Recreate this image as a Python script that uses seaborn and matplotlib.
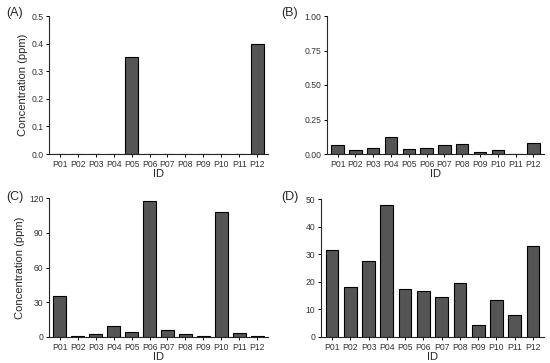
import numpy as np
import pandas as pd
import matplotlib
matplotlib.use('Agg')
import matplotlib.pyplot as plt
import seaborn as sns

ids = ['P01', 'P02', 'P03', 'P04', 'P05', 'P06', 'P07', 'P08', 'P09', 'P10', 'P11', 'P12']
conc_a = [0, 0, 0, 0, 0.35, 0, 0, 0, 0, 0, 0, 0.40]
conc_b = [0.063, 0.026, 0.047, 0.125, 0.037, 0.042, 0.065, 0.069, 0.012, 0.028, 0.003, 0.080]
conc_c = [35.3, 1.0, 2.9, 9.8, 4.7, 117.0, 6.4, 2.7, 0.6, 107.8, 3.3, 0.8]
conc_d = [31.4, 18.1, 27.4, 47.7, 17.3, 16.6, 14.4, 19.4, 4.3, 13.5, 8.0, 32.9]

panels = ['(A)', '(B)', '(C)', '(D)']
ymax = [0.5, 1.0, 120, 50]
yticks = [[0, 0.1, 0.2, 0.3, 0.4, 0.5],
          [0, 0.25, 0.5, 0.75, 1.0],
          [0, 30, 60, 90, 120],
          [0, 10, 20, 30, 40, 50]]
yfmt = ['{:.1f}', '{:.2f}', '{:.0f}', '{:.0f}']

sns.set_style('ticks')
plt.rcParams['font.family'] = ['Liberation Sans', 'DejaVu Sans']

W, H = 550, 363
fig = plt.figure(figsize=(5.5, 3.63), dpi=100)

# axes boxes in pixels: left, right, top, bottom
boxes = [(49, 268, 16, 154), (327, 544, 16, 154),
         (49, 268, 198, 337), (321, 544, 199, 337)]
label_pos = [(6, 13), (281, 13), (6, 197), (281, 197)]

for i, vals in enumerate([conc_a, conc_b, conc_c, conc_d]):
    l, r, t, b = boxes[i]
    ax = fig.add_axes([l / W, 1 - b / H, (r - l) / W, (b - t) / H])
    df = pd.DataFrame({'ID': ids, 'conc': vals})
    sns.barplot(data=df, x='ID', y='conc', color='#555555', saturation=1,
                width=0.7, edgecolor='black', linewidth=0.8, ax=ax)
    ax.set_xlim(-0.6, 11.6)
    ax.set_ylim(0, ymax[i])
    ax.set_yticks(yticks[i])
    ax.set_yticklabels([yfmt[i].format(v) for v in yticks[i]])
    ax.tick_params(axis='both', labelsize=6.2, colors='black', length=2.5, width=0.7,
                   pad=1.5, labelcolor='#333333')
    sns.despine(ax=ax)
    for s in ['left', 'bottom']:
        ax.spines[s].set_linewidth(0.8)
    ax.set_xlabel('ID', fontsize=8, labelpad=0.5)
    if i % 2 == 0:
        ax.set_ylabel('Concentration (ppm)', fontsize=8, labelpad=2.5)
    else:
        ax.set_ylabel('')
    fig.text(label_pos[i][0] / W, 1 - label_pos[i][1] / H, panels[i],
             fontsize=9, ha='left', va='center')

fig.savefig('out.png', dpi=100)
